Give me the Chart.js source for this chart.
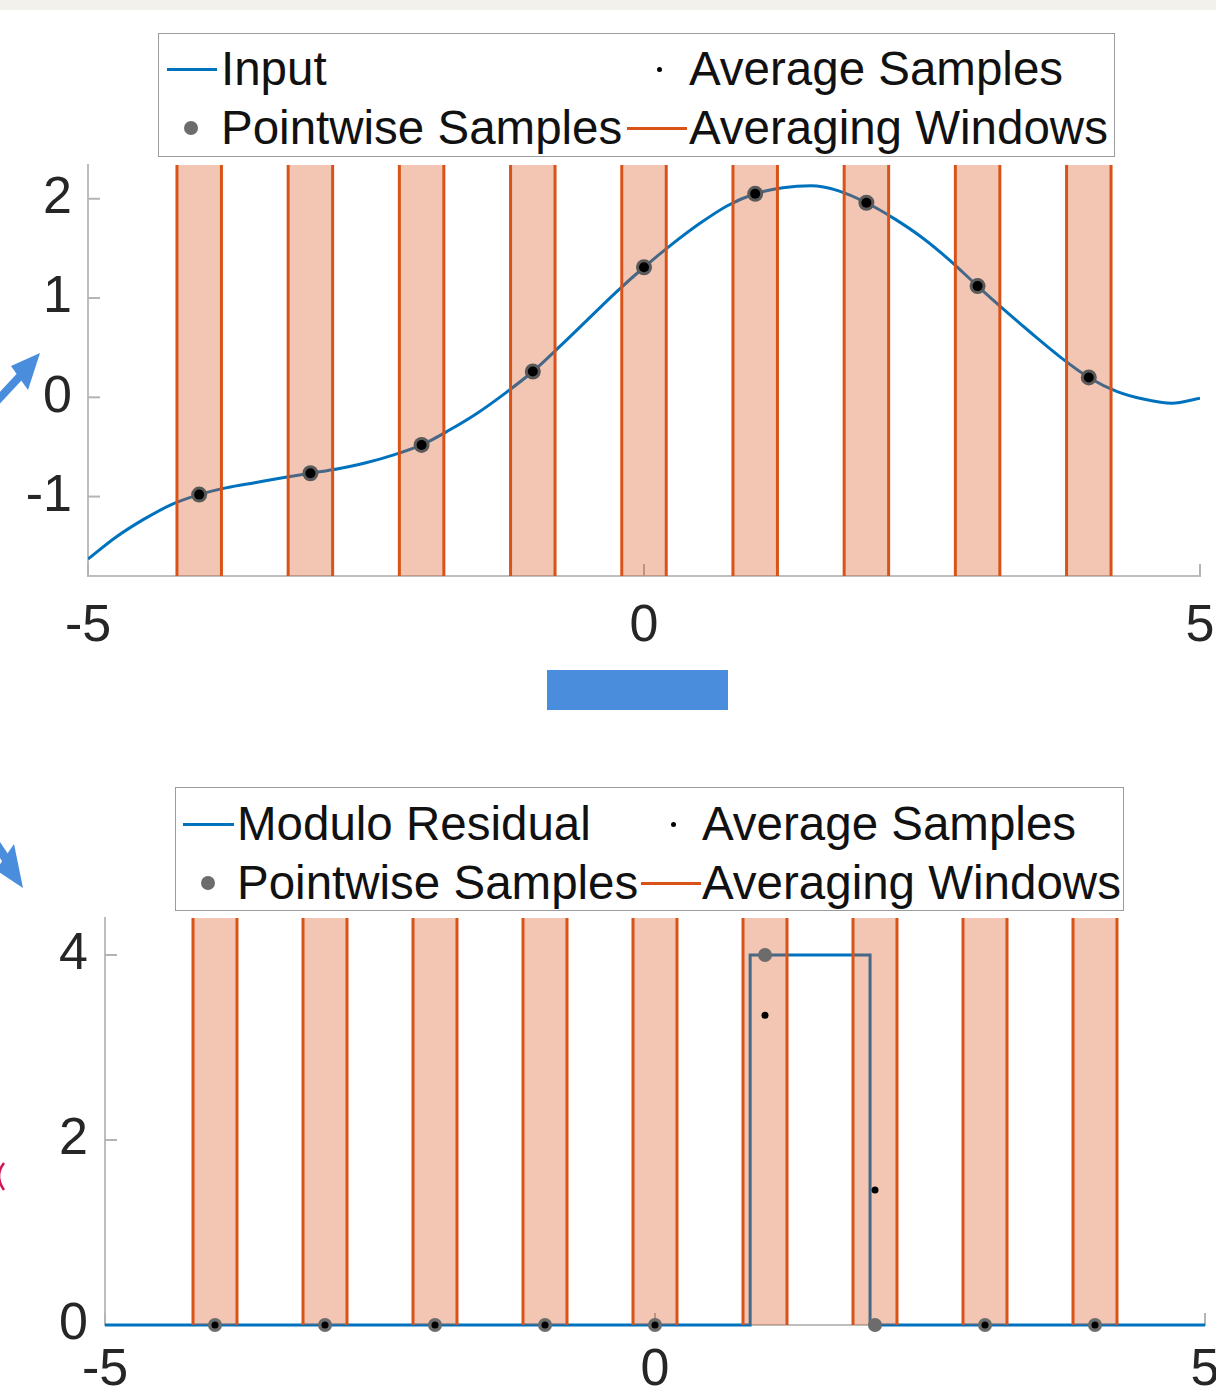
<!DOCTYPE html>
<html>
<head>
<meta charset="utf-8">
<script src="https://cdn.jsdelivr.net/npm/chart.js@4.4.0/dist/chart.umd.min.js"></script>
<style>
body { margin:0; width:1216px; height:1394px; background:#fff; position:relative; overflow:hidden;
       font-family:"Liberation Sans", Arial, sans-serif; }
.band { position:absolute; left:0; top:0; width:1216px; height:10px; background:#f3f1ec; }
.cv { position:absolute; left:0; }
.deco { position:absolute; left:0; top:0; }
.legend { position:absolute; background:#fff; border:1.5px solid #9c9c9c; box-sizing:border-box; z-index:5; }
.lg-text { position:absolute; white-space:nowrap; font-size:47.5px; line-height:48px; color:#111; }
.lg-line { position:absolute; height:3px; }
.lg-dot { position:absolute; border-radius:50%; }
</style>
</head>
<body>
<div class="band"></div>

<svg class="deco" width="1216" height="1394">
  <!-- notas dibujadas sobre la diapositiva -->
  <line x1="-4" y1="402" x2="22" y2="374" stroke="#4a8ddc" stroke-width="8"/>
  <polygon points="40,353 11,366 28,390" fill="#4a8ddc"/>
  <line x1="-10" y1="835" x2="8" y2="862" stroke="#4a8ddc" stroke-width="9"/>
  <polygon points="14,844 23,888 -4,870" fill="#4a8ddc"/>
  <path d="M4,1163 Q-6,1176 4,1190" stroke="#d4145a" stroke-width="2.5" fill="none"/>
  <rect x="547" y="670" width="181" height="40" fill="#4a8ddc"/>
</svg>

<canvas id="chartInput" class="cv" width="1216" height="670" style="top:0"></canvas>
<canvas id="chartResidual" class="cv" width="1216" height="694" style="top:700px"></canvas>

<div id="legendInput" class="legend" style="left:158px; top:33px; width:957px; height:124px"></div>
<div id="legendResidual" class="legend" style="left:175px; top:787px; width:949px; height:124px"></div>

<script>
// curva de entrada
const inputX = [-5, -4.75, -4.5, -4.25, -4, -3.75, -3.5, -3.25, -3, -2.75, -2.5, -2.25, -2,
                -1.75, -1.5, -1.25, -1, -0.75, -0.5, -0.25, 0, 0.25, 0.5, 0.75, 1, 1.25, 1.5,
                1.75, 2, 2.25, 2.5, 2.75, 3, 3.25, 3.5, 3.75, 4, 4.25, 4.5, 4.75, 5];
const inputY = [-1.63, -1.41, -1.23, -1.08, -0.98, -0.91, -0.86, -0.81, -0.765, -0.72, -0.66, -0.58, -0.48,
                -0.33, -0.16, 0.04, 0.26, 0.52, 0.79, 1.06, 1.31, 1.54, 1.75, 1.93, 2.05, 2.11, 2.13,
                2.08, 1.96, 1.80, 1.61, 1.38, 1.12, 0.87, 0.63, 0.40, 0.20, 0.06, -0.02, -0.06, -0.01];

// muestras
const sampleX = [-4, -3, -2, -1, 0, 1, 2, 3, 4];
const pointwiseTop = [-0.98, -0.765, -0.48, 0.26, 1.31, 2.05, 1.96, 1.12, 0.20];
const averageTop = [-0.98, -0.765, -0.48, 0.26, 1.31, 2.05, 1.96, 1.12, 0.20];
const windowHalf = 0.2;

// residuo modulo
const residualX = [-5, 0.865, 0.865, 1.955, 1.955, 5];
const residualY = [0, 0, 4, 4, 0, 0];
const pointwiseBottom = [0, 0, 0, 0, 0, 4, 0, 0, 0];
const averageBottom = [0, 0, 0, 0, 0, 3.35, 1.46, 0, 0];

// ejes
const xTicks = [-5, 0, 5];
const topYTicks = [-1, 0, 1, 2];
const bottomYTicks = [0, 2, 4];
const topYRange = [-1.8, 2.34];
const bottomYRange = [0, 4.4];

const AZUL = '#0072bd';
const NARANJA = '#d95319';
const RELLENO = 'rgba(217,83,25,0.33)';
const GRIS = '#6c6c6c';
const FUENTE = '"Liberation Sans", Arial, sans-serif';

function puntos(xs, ys) {
    return xs.map(function (x, i) { return { x: x, y: ys[i] }; });
}

function ventanas(yMin, yMax) {
    return sampleX.map(function (k) {
        return {
            data: [{ x: k - windowHalf, y: yMin }, { x: k - windowHalf, y: yMax },
                   { x: k + windowHalf, y: yMax }, { x: k + windowHalf, y: yMin }],
            borderColor: NARANJA,
            borderWidth: 3,
            backgroundColor: RELLENO,
            fill: 'start',
            pointRadius: 0,
            tension: 0,
            order: 2,
            segment: {
                borderColor: function (ctx) {
                    return ctx.p0.parsed.x === ctx.p1.parsed.x ? NARANJA : 'rgba(0,0,0,0)';
                }
            }
        };
    });
}

// marcas de eje hacia adentro, como en MATLAB
const marcasInternas = {
    id: 'marcasInternas',
    beforeDatasetsDraw: function (chart) {
        const ctx = chart.ctx, area = chart.chartArea;
        const sx = chart.scales.x, sy = chart.scales.y;
        ctx.save();
        ctx.strokeStyle = '#b4b4b4';
        ctx.lineWidth = 2;
        sy.ticks.forEach(function (t) {
            const py = sy.getPixelForValue(t.value);
            ctx.beginPath(); ctx.moveTo(area.left, py); ctx.lineTo(area.left + 12, py); ctx.stroke();
        });
        sx.ticks.forEach(function (t) {
            const px = sx.getPixelForValue(t.value);
            ctx.beginPath(); ctx.moveTo(px, area.bottom); ctx.lineTo(px, area.bottom - 12); ctx.stroke();
        });
        ctx.restore();
    }
};

function crearGrafico(id, datasets, yRange, yTicks, cfg) {
    return new Chart(document.getElementById(id), {
        type: 'line',
        data: { datasets: datasets },
        plugins: [marcasInternas],
        options: {
            responsive: false,
            animation: false,
            layout: { padding: cfg.padding },
            plugins: { legend: { display: false }, tooltip: { enabled: false } },
            scales: {
                x: {
                    type: 'linear', min: -5, max: 5,
                    grid: { display: false, drawTicks: false },
                    border: { color: '#bdbdbd', width: 2 },
                    ticks: { font: { size: 52, family: FUENTE }, color: '#262626', padding: cfg.xPad, maxRotation: 0 },
                    afterBuildTicks: function (s) { s.ticks = xTicks.map(function (v) { return { value: v }; }); },
                    afterFit: function (s) { s.height = cfg.xHeight; s.paddingLeft = 0; s.paddingRight = 0; }
                },
                y: {
                    type: 'linear', min: yRange[0], max: yRange[1],
                    grid: { display: false, drawTicks: false },
                    border: { color: '#bdbdbd', width: 2 },
                    ticks: { font: { size: 52, family: FUENTE }, color: '#262626', padding: cfg.yPad },
                    afterBuildTicks: function (s) { s.ticks = yTicks.map(function (v) { return { value: v }; }); },
                    afterFit: function (s) { s.width = cfg.yWidth; s.paddingTop = 0; s.paddingBottom = 0; }
                }
            }
        }
    });
}

function muestras(ys, radio, color, orden) {
    return {
        data: puntos(sampleX, ys),
        showLine: false,
        pointRadius: radio,
        pointBackgroundColor: color,
        pointBorderWidth: 0,
        clip: false,
        order: orden
    };
}

// grafico de arriba
crearGrafico('chartInput', [
    { data: puntos(inputX, inputY), borderColor: AZUL, borderWidth: 3, pointRadius: 0,
      cubicInterpolationMode: 'monotone', order: 3 },
    muestras(pointwiseTop, 8, '#5a5a5a', 1),
    muestras(averageTop, 5, '#000', 0)
].concat(ventanas(topYRange[0], topYRange[1])), topYRange, topYTicks,
    { padding: { top: 165, right: 16, bottom: 14, left: 0 }, xPad: 19, xHeight: 80, yPad: 16, yWidth: 88 });

// grafico de abajo
crearGrafico('chartResidual', [
    { data: puntos(residualX, residualY), borderColor: AZUL, borderWidth: 3, pointRadius: 0,
      tension: 0, clip: false, order: 3 },
    muestras(pointwiseBottom, 7, GRIS, 1),
    muestras(averageBottom, 3.5, '#000', 0)
].concat(ventanas(bottomYRange[0], bottomYRange[1])), bottomYRange, bottomYTicks,
    { padding: { top: 218, right: 11, bottom: 0, left: 0 }, xPad: 14, xHeight: 69, yPad: 17, yWidth: 105 });

// leyendas en HTML (dos columnas como en MATLAB)
function leyenda(id, items) {
    const caja = document.getElementById(id);
    items.forEach(function (it) {
        if (it.tipo === 'linea') {
            const l = document.createElement('div');
            l.className = 'lg-line';
            l.style.left = it.m0 + 'px'; l.style.width = (it.m1 - it.m0) + 'px';
            l.style.top = (it.fila - 1.5) + 'px'; l.style.background = it.color;
            caja.appendChild(l);
        } else {
            const d = document.createElement('div');
            d.className = 'lg-dot';
            d.style.left = (it.m0 - it.r) + 'px'; d.style.top = (it.fila - it.r) + 'px';
            d.style.width = d.style.height = (2 * it.r) + 'px'; d.style.background = it.color;
            caja.appendChild(d);
        }
        const t = document.createElement('div');
        t.className = 'lg-text';
        t.textContent = it.texto;
        t.style.left = it.tx + 'px';
        t.style.top = (it.fila - 24) + 'px';
        caja.appendChild(t);
    });
}

leyenda('legendInput', [
    { texto: 'Input', tipo: 'linea', color: AZUL, m0: 8, m1: 58, tx: 62, fila: 35 },
    { texto: 'Pointwise Samples', tipo: 'punto', color: GRIS, r: 7, m0: 32, tx: 62, fila: 94 },
    { texto: 'Average Samples', tipo: 'punto', color: '#000', r: 2.5, m0: 500, tx: 530, fila: 35 },
    { texto: 'Averaging Windows', tipo: 'linea', color: NARANJA, m0: 468, m1: 528, tx: 530, fila: 94 }
]);

leyenda('legendResidual', [
    { texto: 'Modulo Residual', tipo: 'linea', color: AZUL, m0: 7, m1: 58, tx: 61, fila: 36 },
    { texto: 'Pointwise Samples', tipo: 'punto', color: GRIS, r: 7, m0: 32, tx: 61, fila: 95 },
    { texto: 'Average Samples', tipo: 'punto', color: '#000', r: 2.5, m0: 497, tx: 526, fila: 36 },
    { texto: 'Averaging Windows', tipo: 'linea', color: NARANJA, m0: 465, m1: 525, tx: 526, fila: 95 }
]);
</script>
</body>
</html>
